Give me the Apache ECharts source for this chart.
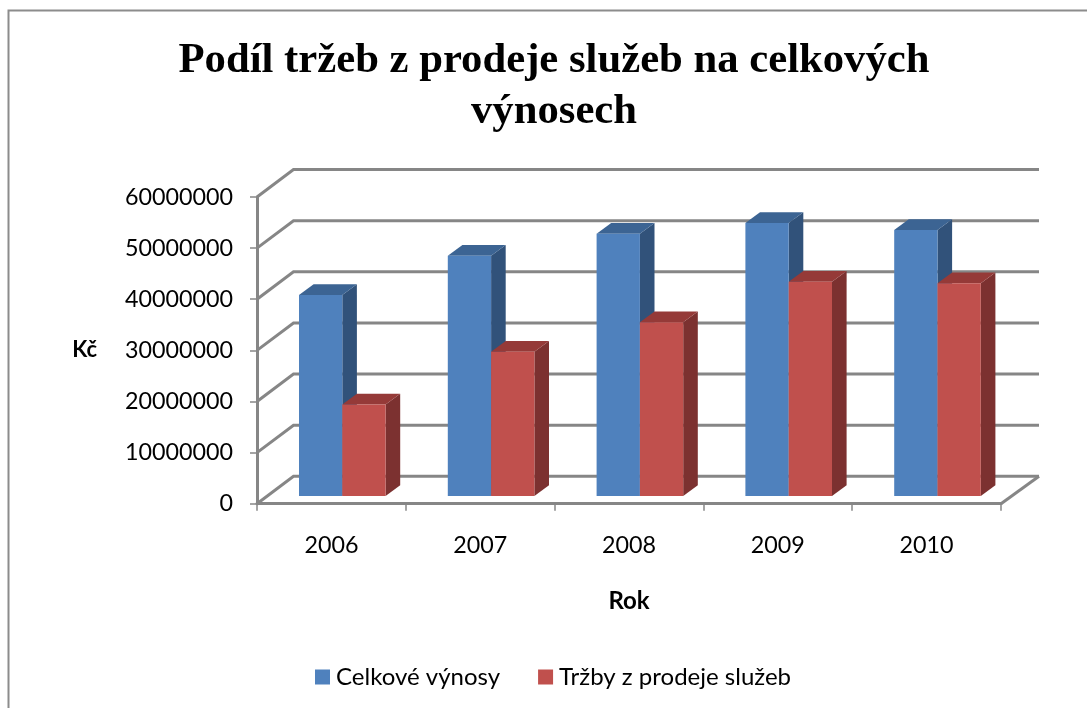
<!DOCTYPE html>
<html><head><meta charset="utf-8">
<style>html,body{margin:0;padding:0;background:#fff}#c{width:1087px;height:708px}</style>
<script src="https://cdn.jsdelivr.net/npm/echarts@6/dist/echarts.min.js"></script>
</head><body><div id="c"></div>
<script>
var categories = ['2006','2007','2008','2009','2010'];
var celkoveVynosy = [39300000,47000000,51300000,53400000,52050000];
var trzbySluzby = [17900000,28200000,34000000,41900000,41600000];
var yTicks = [0,10000000,20000000,30000000,40000000,50000000,60000000];
var titleText = 'Podíl tržeb z prodeje služeb na celkových\nvýnosech';
var FONT = 'Lato';
var DEPTH = [36.5,-27.4], BASE = [10.9,-7.7], SIDE = [14.6,-10.8];

function barSeries(name, values, colors, side){
  return {
    name:name, type:'custom', coordinateSystem:'cartesian2d', z:3,
    itemStyle:{color:colors[0]},
    data:values.map(function(v,i){return [i,v];}),
    renderItem:function(params,api){
      var w = api.size([1,0])[0]*0.291;
      var c0 = api.coord([api.value(0),0]);
      var c1 = api.coord([api.value(0),api.value(1)]);
      var xl = c0[0]+BASE[0]+(side<0?-w:0), xr = xl+w;
      var yb = c0[1]+BASE[1], yt = c1[1]+BASE[1];
      var dx=SIDE[0], dy=SIDE[1];
      return {type:'group',children:[
        {type:'polygon',shape:{points:[[xr,yt],[xr+dx,yt+dy],[xr+dx,yb+dy],[xr,yb]]},style:{fill:colors[2]}},
        {type:'polygon',shape:{points:[[xl,yt],[xl+dx,yt+dy],[xr+dx,yt+dy],[xr,yt]]},style:{fill:colors[1]}},
        {type:'rect',shape:{x:xl,y:yt,width:w,height:yb-yt},style:{fill:colors[0]}}
      ]};
    }
  };
}

var chart = echarts.init(document.getElementById('c'),null,{renderer:'canvas'});
chart.setOption({
  animation:false,
  backgroundColor:'#fff',
  textStyle:{fontFamily:FONT},
  title:{text:titleText,left:549,top:30,textAlign:'center',
    textStyle:{fontFamily:'Liberation Serif',fontWeight:'bold',fontSize:42.7,lineHeight:51,color:'#000'}},
  grid:{left:257,right:86,top:197,bottom:204.3,containLabel:false},
  legend:{left:310,top:660,itemWidth:15,itemHeight:15,itemGap:38,icon:'rect',
    textStyle:{fontFamily:FONT,fontSize:24,color:'#000',padding:[0,0,0,1]},
    data:['Celkové výnosy','Tržby z prodeje služeb']},
  xAxis:{type:'category',data:categories,boundaryGap:true,
    name:'Rok',nameLocation:'middle',nameGap:86,
    nameTextStyle:{fontFamily:FONT,fontWeight:'bold',fontSize:24,color:'#000'},
    axisLine:{lineStyle:{color:'#868686',width:3}},
    axisTick:{show:true,length:7,lineStyle:{color:'#868686',width:1.5}},
    axisLabel:{fontFamily:FONT,fontSize:23.3,color:'#000',margin:30}},
  yAxis:{type:'value',min:0,max:60000000,interval:10000000,
    name:'Kč',nameLocation:'middle',nameRotate:0,nameGap:160,
    nameTextStyle:{fontFamily:FONT,fontWeight:'bold',fontSize:22,color:'#000'},
    axisLine:{show:true,lineStyle:{color:'#868686',width:3}},
    axisTick:{show:true,length:7,lineStyle:{color:'#868686',width:1.5}},
    splitLine:{show:false},
    axisLabel:{fontFamily:FONT,fontSize:23.3,color:'#000',margin:24,formatter:function(v){return String(v);}}},
  graphic:[{type:'polyline',z:-1,silent:true,shape:{points:[[8.5,708],[8.5,10.5],[1087,10.5]]},
    style:{fill:'none',stroke:'#8c8c8c',lineWidth:2}}],
  series:[
    {type:'custom',name:'wall',z:1,silent:true,coordinateSystem:'cartesian2d',
      data:yTicks.map(function(v){return [0,v];}),
      renderItem:function(params,api){
        var p = api.coord([0,api.value(1)]);
        var size = api.size([1,0])[0];
        var x0 = p[0]-size/2, y0 = p[1];
        var x1 = x0+DEPTH[0], y1 = y0+DEPTH[1], x2 = x0+size*5+DEPTH[0];
        var ch = [{type:'polyline',shape:{points:[[x0,y0],[x1,y1],[x2+1.5,y1]]},
          style:{fill:'none',stroke:'#868686',lineWidth:3}}];
        if(api.value(1)===0){
          ch.push({type:'line',shape:{x1:x0+size*5,y1:y0,x2:x2+1.5,y2:y1},style:{stroke:'#868686',lineWidth:3}});
        }
        return {type:'group',children:ch};
      }},
    barSeries('Celkové výnosy',celkoveVynosy,['#4F81BD','#3C6493','#31527A'],-1),
    barSeries('Tržby z prodeje služeb',trzbySluzby,['#C0504D','#953A38','#7C3130'],1)
  ]
});
</script></body></html>
